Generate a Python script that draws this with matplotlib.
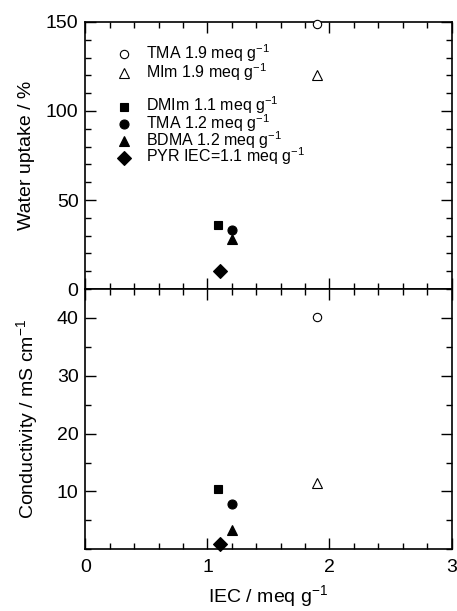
import numpy as np
import matplotlib.pyplot as plt
from matplotlib.ticker import MultipleLocator

plt.rcParams['font.family'] = ['Liberation Sans', 'DejaVu Sans']
plt.rcParams['mathtext.fontset'] = 'custom'
plt.rcParams['mathtext.rm'] = 'Liberation Sans'
plt.rcParams['mathtext.default'] = 'regular'

# --- data ---
labels = ['TMA 1.9 meq g$^{-1}$', 'MIm 1.9 meq g$^{-1}$',
          'DMIm 1.1 meq g$^{-1}$', 'TMA 1.2 meq g$^{-1}$',
          'BDMA 1.2 meq g$^{-1}$', 'PYR IEC=1.1 meq g$^{-1}$']
iec = [1.9, 1.9, 1.09, 1.2, 1.2, 1.1]
uptake = [149, 120, 36, 33, 28, 10]
conductivity = [40.2, 11.4, 10.5, 7.8, 3.4, 0.85]

# marker styles
markers = ['o', '^', 's', 'o', '^', 'D']
filled = [False, False, True, True, True, True]
sizes = [6, 6.5, 6, 6.5, 6.5, 7.5]
# legend rows (axes fraction), gap after the open symbols
key_y = [0.880, 0.809, 0.682, 0.618, 0.554, 0.491]

fig = plt.figure(figsize=(4.57, 6.11), dpi=100)
ax1 = fig.add_axes([0.187, 0.527, 0.801, 0.437])
ax2 = fig.add_axes([0.187, 0.101, 0.801, 0.426])

for i in range(len(labels)):
    fc = 'black' if filled[i] else 'white'
    kw = dict(marker=markers[i], markersize=sizes[i], markerfacecolor=fc,
              markeredgecolor='black', markeredgewidth=0.8, linestyle='none',
              clip_on=False, zorder=5)
    ax1.plot(iec[i], uptake[i], **kw)
    ax2.plot(iec[i], conductivity[i], **kw)
    # hand-made key, like the original figure
    ax1.plot(0.105, key_y[i], transform=ax1.transAxes, **kw)
    ax1.text(0.165, key_y[i] - 0.017, labels[i], transform=ax1.transAxes,
             fontsize=11.5, va='baseline', ha='left')

for ax in (ax1, ax2):
    ax.set_xlim(0, 3)
    ax.xaxis.set_major_locator(MultipleLocator(1))
    ax.xaxis.set_minor_locator(MultipleLocator(0.2))
    ax.tick_params(which='both', direction='in', top=True, right=True,
                   labelsize=14, pad=5, width=1.0)
    ax.tick_params(axis='x', pad=7)
    ax.tick_params(which='major', length=8)
    ax.tick_params(which='minor', length=4.5)
    for s in ax.spines.values():
        s.set_linewidth(1.2)

ax1.set_ylim(0, 150)
ax1.yaxis.set_major_locator(MultipleLocator(50))
ax1.yaxis.set_minor_locator(MultipleLocator(10))
ax1.tick_params(labelbottom=False)
ax1.set_ylabel('Water uptake / %', fontsize=14, labelpad=8)

ax2.set_ylim(0, 45)
ax2.set_yticks([10, 20, 30, 40])
ax2.yaxis.set_minor_locator(MultipleLocator(5))
ax2.set_ylabel('Conductivity / mS cm$^{-1}$', fontsize=14, labelpad=12)
ax2.set_xlabel('IEC / meq g$^{-1}$', fontsize=14, labelpad=5)

fig.align_ylabels([ax1, ax2])
fig.savefig('out.png', dpi=100)
